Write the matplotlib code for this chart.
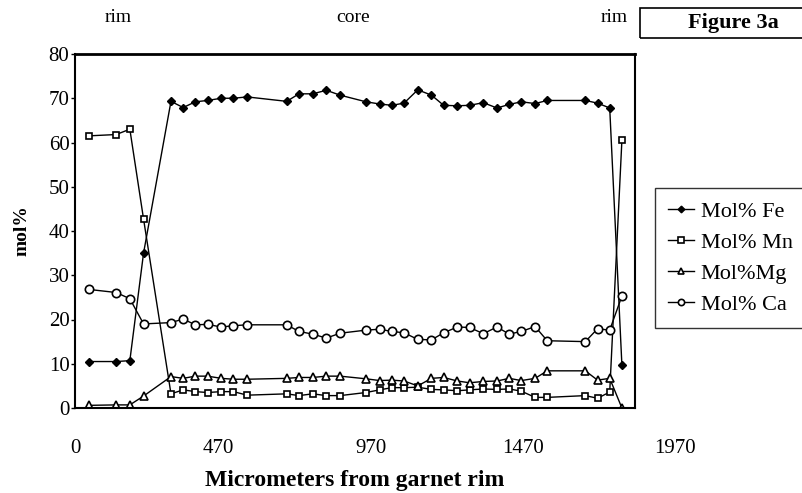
import matplotlib
matplotlib.use('Agg')
import matplotlib.pyplot as plt
from matplotlib.patches import Rectangle

plt.rcParams['font.family'] = ['Liberation Serif', 'DejaVu Serif']

# distance from garnet rim (micrometers)
dist = [45, 135, 180, 225, 315, 355, 395, 435, 480, 520, 565, 695, 735, 780, 825, 870,
        955, 1000, 1040, 1080, 1125, 1170, 1210, 1255, 1295, 1340, 1385, 1425, 1465,
        1510, 1550, 1675, 1715, 1755, 1795]

fe = [10.5, 10.5, 10.7, 35.0, 69.3, 67.9, 69.2, 69.5, 70.0, 70.0, 70.3, 69.3, 71.0, 71.0,
      71.8, 70.7, 69.2, 68.7, 68.4, 68.9, 71.9, 70.7, 68.4, 68.3, 68.4, 69.0, 67.8, 68.6,
      69.2, 68.8, 69.5, 69.5, 68.9, 67.8, 9.7]
mn = [61.5, 61.8, 63.0, 42.7, 3.2, 4.1, 3.7, 3.5, 3.7, 3.7, 2.9, 3.2, 2.8, 3.2, 2.8, 2.8,
      3.5, 4.1, 4.6, 4.6, 4.7, 4.2, 4.1, 3.9, 4.1, 4.3, 4.2, 4.3, 3.8, 2.4, 2.4, 2.8, 2.2,
      3.6, 60.5]
mg = [0.6, 0.7, 0.7, 2.7, 7.1, 6.7, 7.2, 7.2, 6.7, 6.5, 6.5, 6.7, 6.9, 6.9, 7.2, 7.2,
      6.6, 6.2, 6.3, 6.1, 5.0, 6.7, 6.9, 6.1, 5.7, 6.0, 6.1, 6.7, 6.2, 6.7, 8.4, 8.4, 6.3,
      6.7, 0.0]
ca = [26.8, 26.1, 24.7, 19.0, 19.3, 20.1, 18.8, 18.9, 18.3, 18.6, 18.8, 18.8, 17.3, 16.7,
      15.8, 16.9, 17.6, 17.8, 17.3, 17.0, 15.5, 15.4, 17.0, 18.3, 18.2, 16.8, 18.3, 16.7,
      17.3, 18.4, 15.2, 15.0, 17.9, 17.6, 25.3]

xtick_vals = [0, 470, 970, 1470, 1970]

fig = plt.figure(figsize=(8.02, 4.93), dpi=100)
ax = fig.add_axes([75/802, 1-408/493, 560/802, 354/493])

ax.plot(dist, fe, color='black', lw=1, marker='D', ms=4.5, mfc='black', label='Mol% Fe')
ax.plot(dist, mn, color='black', lw=1, marker='s', ms=5, mfc='white', mew=1.2, label='Mol% Mn')
ax.plot(dist, mg, color='black', lw=1, marker='^', ms=5.5, mfc='white', mew=1.2, label='Mol%Mg')
ax.plot(dist, ca, color='black', lw=1, marker='o', ms=6, mfc='white', mew=1.2, label='Mol% Ca')

ax.set_xlim(0, 1838)
ax.set_ylim(0, 80)
ax.set_yticks(range(0, 81, 10))
ax.set_xticks([])
ax.tick_params(axis='y', direction='out', length=3, width=1, pad=1, labelsize=15)
for s in ax.spines.values():
    s.set_linewidth(1.5)
ax.spines['top'].set_linewidth(2)

# x tick labels (scan places 1970 past the plot edge)
for v in xtick_vals:
    ax.text(v, -0.115, str(v), transform=ax.get_xaxis_transform(), ha='center', va='center',
            fontsize=15, clip_on=False)

ax.set_ylabel('mol%', fontsize=14, fontweight='bold', va='center')
ax.yaxis.set_label_coords(-0.095, 0.5)
ax.set_xlabel('Micrometers from garnet rim', fontsize=17, fontweight='bold')
ax.xaxis.set_label_coords(0.5, -0.175)

# rim / core / rim labels
fig.text(118/802, 1-18/493, 'rim', ha='center', va='center', fontsize=14)
fig.text(353/802, 1-18/493, 'core', ha='center', va='center', fontsize=14)
fig.text(614/802, 1-18/493, 'rim', ha='center', va='center', fontsize=14)

# Figure label box
fig.patches.append(Rectangle((640/802, 1-38/493), 0.3, 30/493, transform=fig.transFigure,
                             fill=False, edgecolor='black', lw=1.2))
fig.text(733/802, 1-23/493, 'Figure 3a', ha='center', va='center', fontsize=16,
         fontweight='bold')

leg = ax.legend(loc='upper left', bbox_to_anchor=(655/802, 1-188/493),
                bbox_transform=fig.transFigure, fontsize=16, frameon=True, fancybox=False,
                edgecolor='black', handlelength=1.15, handletextpad=0.3, labelspacing=0.47,
                borderaxespad=0, borderpad=0.6, markerscale=0.75)
leg.get_frame().set_linewidth(1)

fig.savefig('out.png', dpi=100)
